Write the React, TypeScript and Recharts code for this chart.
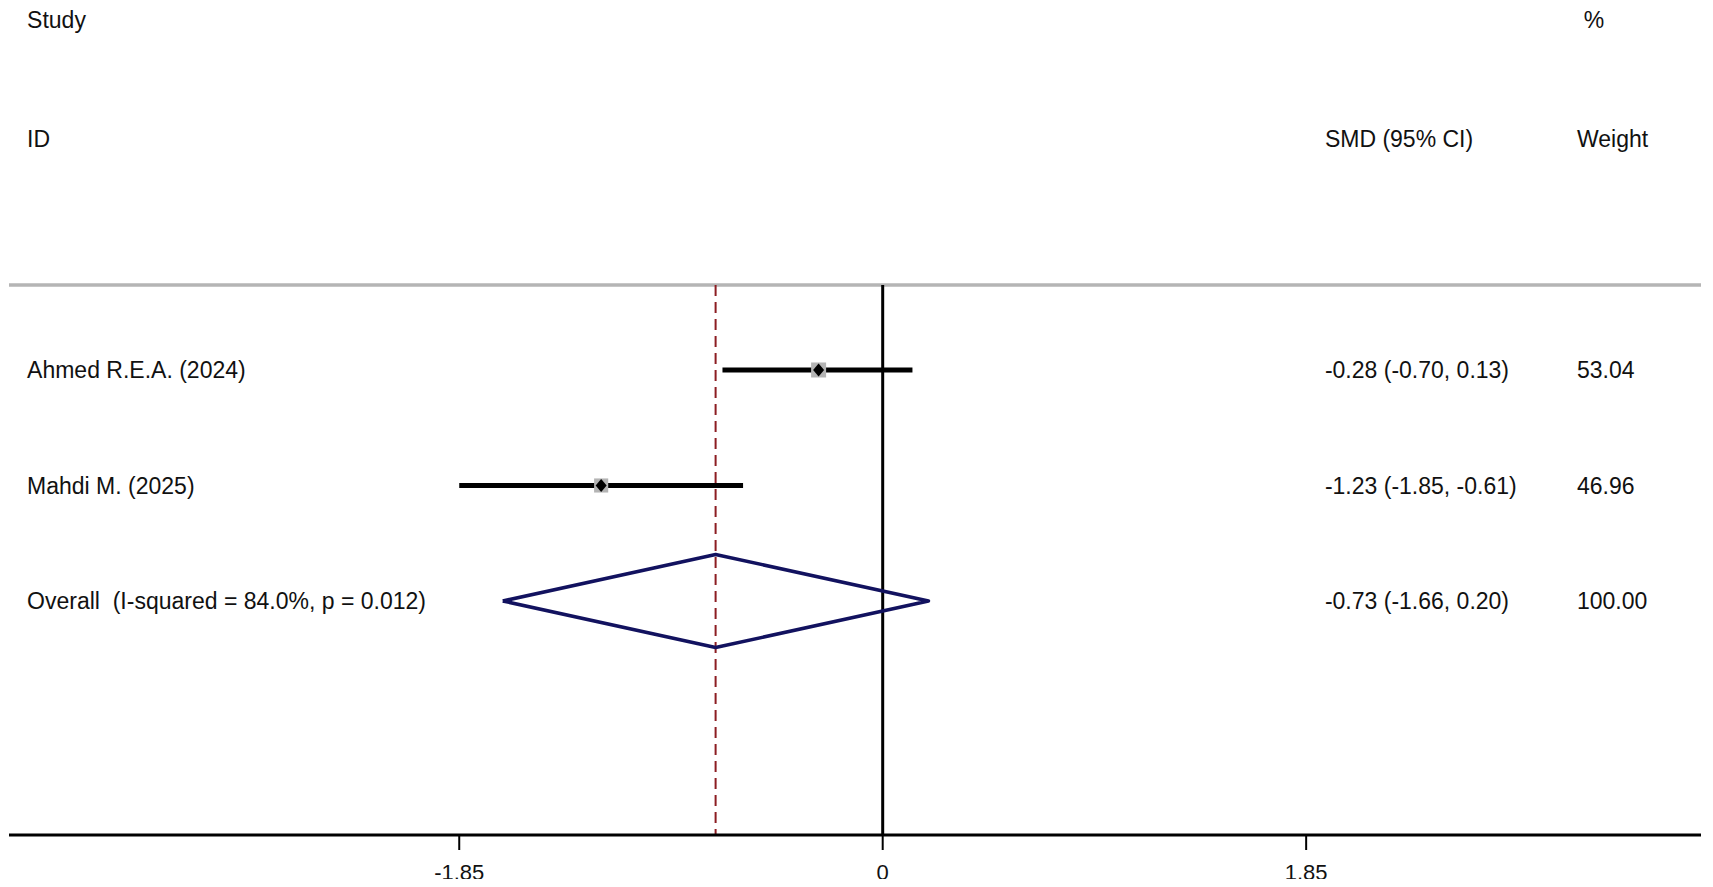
import React from 'react'
import {
    ScatterChart,
    Scatter,
    XAxis,
    YAxis,
    ErrorBar,
    ReferenceLine
} from 'recharts'

// study level results
const studies = ['Ahmed R.E.A. (2024)', 'Mahdi M. (2025)']
const smd = [-0.28, -1.23]
const lower = [-0.70, -1.85]
const upper = [0.13, -0.61]
const weights = [53.04, 46.96]

// pooled estimate
const overallLabel = 'Overall  (I-squared = 84.0%, p = 0.012)'
const overallSmd = -0.73
const overallLower = -1.66
const overallUpper = 0.20
const overallWeight = 100.0

const xTicks = [-1.85, 0, 1.85]

// layout (data units)
const X_DOMAIN = [-3.817, 3.575]
const Y_DOMAIN = [-2.134, 5.026]
const HEADER_LINE = 0.264
const STUDY_COL = -3.738
const SMD_COL = 1.932
const WEIGHT_COL = 3.033
const HEADER_ROWS = [-2.03, -1.0]
const DIAMOND_HALF = 0.403

const FONT = '"Liberation Sans", Arial, Helvetica, sans-serif'

const f2 = (v: number) => v.toFixed(2)

const studyRows = studies.map((name, i) => ({
    x: smd[i],
    y: i + 1,
    ci: [smd[i] - lower[i], upper[i] - smd[i]],
    w: weights[i]
}))
const overallRow = studies.length + 1

const diamond = [
    { x: overallLower, y: overallRow },
    { x: overallSmd, y: overallRow - DIAMOND_HALF },
    { x: overallUpper, y: overallRow },
    { x: overallSmd, y: overallRow + DIAMOND_HALF },
    { x: overallLower, y: overallRow }
]

const texts = [
    { x: STUDY_COL, y: HEADER_ROWS[0], label: 'Study' },
    { x: WEIGHT_COL + 0.03, y: HEADER_ROWS[0], label: '%' },
    { x: STUDY_COL, y: HEADER_ROWS[1], label: 'ID' },
    { x: SMD_COL, y: HEADER_ROWS[1], label: 'SMD (95% CI)' },
    { x: WEIGHT_COL, y: HEADER_ROWS[1], label: 'Weight' },
    ...studies.flatMap((name, i) => [
        { x: STUDY_COL, y: i + 1, label: name },
        { x: SMD_COL, y: i + 1, label: `${f2(smd[i])} (${f2(lower[i])}, ${f2(upper[i])})` },
        { x: WEIGHT_COL, y: i + 1, label: f2(weights[i]) }
    ]),
    { x: STUDY_COL, y: overallRow, label: overallLabel },
    { x: SMD_COL, y: overallRow, label: `${f2(overallSmd)} (${f2(overallLower)}, ${f2(overallUpper)})` },
    { x: WEIGHT_COL, y: overallRow, label: f2(overallWeight) }
]

const TextCell = (props: any) => (
    <text
        x={props.cx}
        y={props.cy}
        dy="0.36em"
        fontSize={23}
        fontFamily={FONT}
        fill="#111"
        style={{ whiteSpace: 'pre' }}
    >
        {props.payload.label}
    </text>
)

const StudyMarker = (props: any) => {
    const { cx, cy, payload } = props
    const s = 15 * Math.sqrt(payload.w / weights[0])
    return (
        <g>
            <rect x={cx - s / 2} y={cy - s / 2} width={s} height={s} fill="#b4b4b4" />
            <polygon
                points={`${cx},${cy - 6.5} ${cx + 5.5},${cy} ${cx},${cy + 6.5} ${cx - 5.5},${cy}`}
                fill="#000"
            />
        </g>
    )
}

const Empty = () => <g />

const App = () => {
    return (
        <div style={{ width: 1697, height: 879, marginBottom: -8 }}>
            <ScatterChart
                width={1697}
                height={879}
                margin={{ top: 0, right: 4, bottom: 0, left: 1 }}
            >
                <XAxis
                    type="number"
                    dataKey="x"
                    domain={X_DOMAIN}
                    allowDataOverflow
                    ticks={xTicks}
                    interval={0}
                    height={52}
                    tickSize={15}
                    tickMargin={14}
                    tickFormatter={(v: number) => (v === 0 ? '0' : f2(v))}
                    axisLine={{ stroke: '#000', strokeWidth: 3 }}
                    tickLine={{ stroke: '#000', strokeWidth: 2 }}
                    tick={{ fill: '#111', fontSize: 22, fontFamily: FONT }}
                />
                <YAxis type="number" dataKey="y" domain={Y_DOMAIN} allowDataOverflow reversed hide />
                <ReferenceLine y={HEADER_LINE} stroke="#b5b5b5" strokeWidth={3.5} />
                <ReferenceLine
                    segment={[{ x: 0, y: HEADER_LINE }, { x: 0, y: Y_DOMAIN[1] }]}
                    stroke="#000"
                    strokeWidth={3}
                />
                <ReferenceLine
                    segment={[{ x: overallSmd, y: HEADER_LINE }, { x: overallSmd, y: Y_DOMAIN[1] }]}
                    stroke="#8c1d22"
                    strokeWidth={2}
                    strokeDasharray="11 6"
                />
                <Scatter data={studyRows} shape={Empty} isAnimationActive={false}>
                    <ErrorBar dataKey="ci" direction="x" width={0} stroke="#000" strokeWidth={5} isAnimationActive={false} />
                </Scatter>
                <Scatter data={studyRows} shape={StudyMarker} isAnimationActive={false} />
                <Scatter
                    data={diamond}
                    shape={Empty}
                    line={{ stroke: '#12125f', strokeWidth: 3.5, strokeLinejoin: 'round' }}
                    lineJointType="linear"
                    isAnimationActive={false}
                />
                <Scatter data={texts} shape={TextCell} isAnimationActive={false} />
            </ScatterChart>
        </div>
    )
}

export default App
